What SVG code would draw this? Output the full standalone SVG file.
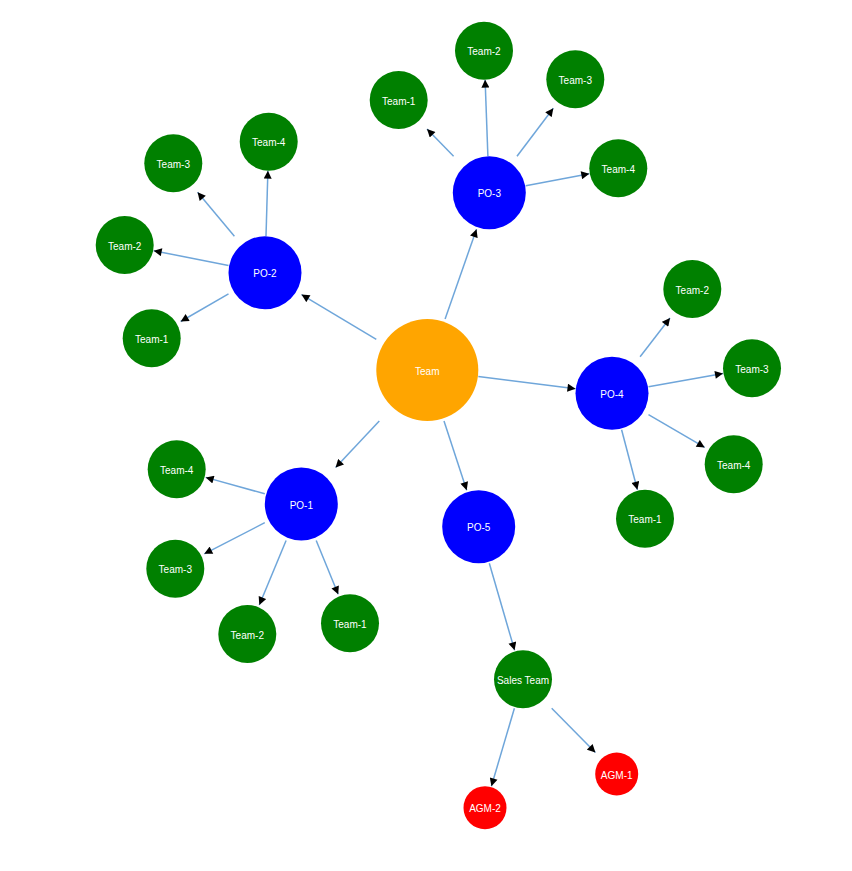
<svg xmlns="http://www.w3.org/2000/svg" width="852" height="871" viewBox="0 0 852 871">
<defs>
<style>
.link{stroke:#6fa6da;stroke-width:1.5;fill:none;marker-end:url(#arrow)}
.lbl{font-family:"Segoe UI","Liberation Sans",Arial,sans-serif;font-size:10px;fill:#ffffff;text-anchor:middle;dominant-baseline:central}
.root{fill:#FFA500}
.po{fill:#0000FF}
.team{fill:#008000}
.agm{fill:#FF0000}
</style>
<marker id="arrow" viewBox="0 0 10 10" markerWidth="9" markerHeight="8" refX="10" refY="5" orient="auto" markerUnits="userSpaceOnUse">
<path d="M0,0 L10,5 L0,10 z" fill="#000"/>
</marker>
</defs>
<rect width="852" height="871" fill="#ffffff"/>
<g id="links">
<line class="link" x1="376.3" y1="339.4" x2="301.5" y2="294.6"/>
<line class="link" x1="445.1" y1="319" x2="476.5" y2="229.2"/>
<line class="link" x1="478.3" y1="376.4" x2="575.5" y2="388.7"/>
<line class="link" x1="379.3" y1="421" x2="335.6" y2="467.5"/>
<line class="link" x1="444" y1="421" x2="466.7" y2="490.2"/>
<line class="link" x1="453.6" y1="156.2" x2="427" y2="129"/>
<line class="link" x1="487.9" y1="156.2" x2="485.1" y2="79.7"/>
<line class="link" x1="517" y1="156.2" x2="553.3" y2="108.3"/>
<line class="link" x1="525.8" y1="185.8" x2="589.3" y2="173.8"/>
<line class="link" x1="234.4" y1="236.2" x2="197.6" y2="192.3"/>
<line class="link" x1="266" y1="236.2" x2="267.9" y2="170.7"/>
<line class="link" x1="228.5" y1="265.5" x2="153.7" y2="250.7"/>
<line class="link" x1="228.5" y1="293.8" x2="180.7" y2="321.5"/>
<line class="link" x1="640.1" y1="356.8" x2="670" y2="318"/>
<line class="link" x1="648.5" y1="386.8" x2="723" y2="373.5"/>
<line class="link" x1="648.5" y1="414.6" x2="704.7" y2="447.4"/>
<line class="link" x1="621.6" y1="429.8" x2="637.4" y2="489.7"/>
<line class="link" x1="264.8" y1="493.8" x2="205.7" y2="477.4"/>
<line class="link" x1="264.8" y1="522.7" x2="204.3" y2="553.8"/>
<line class="link" x1="286.1" y1="540.5" x2="259.3" y2="605"/>
<line class="link" x1="316.2" y1="540.5" x2="338.2" y2="594.3"/>
<line class="link" x1="489.3" y1="563.2" x2="514.6" y2="650.3"/>
<line class="link" x1="551.7" y1="708.3" x2="595.4" y2="752.5"/>
<line class="link" x1="514.4" y1="708.3" x2="491.4" y2="786.2"/>
</g>
<g id="node-team"><circle class="root" cx="427.3" cy="370" r="51"/><text class="lbl" x="427.3" y="371">Team</text></g>
<g id="node-po1"><circle class="po" cx="301.3" cy="504" r="36.5"/><text class="lbl" x="301.3" y="505">PO-1</text></g>
<g id="node-po2"><circle class="po" cx="265" cy="272.7" r="36.5"/><text class="lbl" x="265" y="273.7">PO-2</text></g>
<g id="node-po3"><circle class="po" cx="489.3" cy="192.7" r="36.5"/><text class="lbl" x="489.3" y="193.7">PO-3</text></g>
<g id="node-po4"><circle class="po" cx="612" cy="393.3" r="36.5"/><text class="lbl" x="612" y="394.3">PO-4</text></g>
<g id="node-po5"><circle class="po" cx="478.7" cy="526.7" r="36.5"/><text class="lbl" x="478.7" y="527.7">PO-5</text></g>
<g id="node-po3-team1"><circle class="team" cx="398.7" cy="100" r="29"/><text class="lbl" x="398.7" y="101">Team-1</text></g>
<g id="node-po3-team2"><circle class="team" cx="484" cy="50.7" r="29"/><text class="lbl" x="484" y="51.7">Team-2</text></g>
<g id="node-po3-team3"><circle class="team" cx="575.3" cy="79.3" r="29"/><text class="lbl" x="575.3" y="80.3">Team-3</text></g>
<g id="node-po3-team4"><circle class="team" cx="618.3" cy="168.3" r="29"/><text class="lbl" x="618.3" y="169.3">Team-4</text></g>
<g id="node-po2-team3"><circle class="team" cx="173.3" cy="163.3" r="29"/><text class="lbl" x="173.3" y="164.3">Team-3</text></g>
<g id="node-po2-team4"><circle class="team" cx="268.7" cy="141.7" r="29"/><text class="lbl" x="268.7" y="142.7">Team-4</text></g>
<g id="node-po2-team2"><circle class="team" cx="124.7" cy="245" r="29"/><text class="lbl" x="124.7" y="246">Team-2</text></g>
<g id="node-po2-team1"><circle class="team" cx="151.7" cy="338.3" r="29"/><text class="lbl" x="151.7" y="339.3">Team-1</text></g>
<g id="node-po4-team2"><circle class="team" cx="692.3" cy="289" r="29"/><text class="lbl" x="692.3" y="290">Team-2</text></g>
<g id="node-po4-team3"><circle class="team" cx="752" cy="368.3" r="29"/><text class="lbl" x="752" y="369.3">Team-3</text></g>
<g id="node-po4-team4"><circle class="team" cx="733.7" cy="464.3" r="29"/><text class="lbl" x="733.7" y="465.3">Team-4</text></g>
<g id="node-po4-team1"><circle class="team" cx="645" cy="518.7" r="29"/><text class="lbl" x="645" y="519.7">Team-1</text></g>
<g id="node-po1-team4"><circle class="team" cx="176.7" cy="469.3" r="29"/><text class="lbl" x="176.7" y="470.3">Team-4</text></g>
<g id="node-po1-team3"><circle class="team" cx="175.3" cy="568.7" r="29"/><text class="lbl" x="175.3" y="569.7">Team-3</text></g>
<g id="node-po1-team2"><circle class="team" cx="247.3" cy="634" r="29"/><text class="lbl" x="247.3" y="635">Team-2</text></g>
<g id="node-po1-team1"><circle class="team" cx="350" cy="623.3" r="29"/><text class="lbl" x="350" y="624.3">Team-1</text></g>
<g id="node-sales"><circle class="team" cx="523" cy="679.3" r="29"/><text class="lbl" x="523" y="680.3">Sales Team</text></g>
<g id="node-agm1"><circle class="agm" cx="616.7" cy="774" r="21.5"/><text class="lbl" x="616.7" y="775">AGM-1</text></g>
<g id="node-agm2"><circle class="agm" cx="485" cy="807.7" r="21.5"/><text class="lbl" x="485" y="808.7">AGM-2</text></g>
</svg>
